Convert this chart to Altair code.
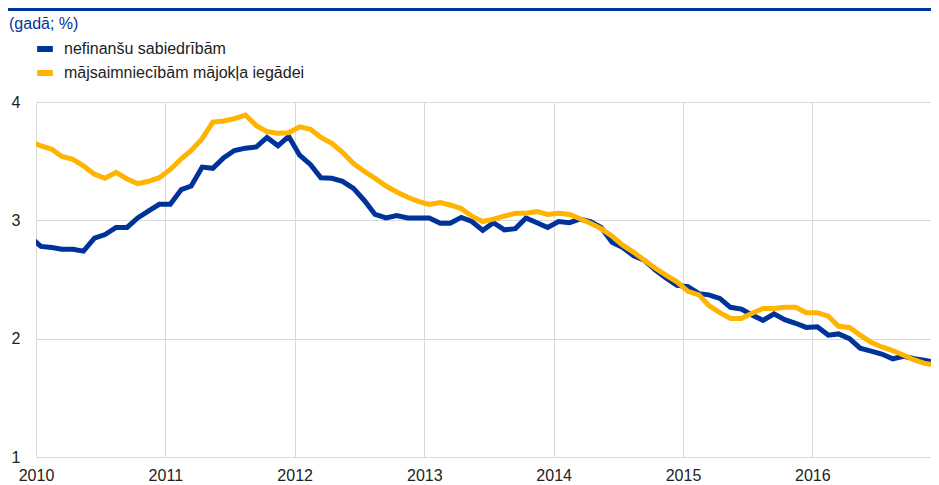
import altair as alt
import pandas as pd

# ---- data (monthly, mid-month points, Dec 2009 .. Dec 2016) ----
first_month = "2009-12-01"
nefinansu = [
    2.86,
    2.78, 2.77, 2.755, 2.755, 2.74, 2.85, 2.88, 2.94, 2.94, 3.02, 3.08, 3.135,
    3.135, 3.26, 3.29, 3.45, 3.44, 3.53, 3.59, 3.61, 3.62, 3.70, 3.63, 3.71,
    3.55, 3.47, 3.36, 3.355, 3.33, 3.27, 3.17, 3.05, 3.02, 3.04, 3.02, 3.02,
    3.02, 2.975, 2.975, 3.025, 2.99, 2.915, 2.98, 2.92, 2.93, 3.02, 2.98, 2.94,
    2.99, 2.98, 3.01, 2.99, 2.94, 2.815, 2.77, 2.70, 2.66, 2.58, 2.51, 2.45,
    2.44, 2.38, 2.37, 2.34, 2.265, 2.25, 2.20, 2.155, 2.21, 2.16, 2.13, 2.095,
    2.10, 2.03, 2.04, 2.00, 1.92, 1.895, 1.87, 1.83, 1.85, 1.83, 1.815, 1.80,
]
majsaimn = [
    3.665,
    3.63, 3.60, 3.54, 3.515, 3.46, 3.39, 3.355, 3.405, 3.35, 3.31, 3.33, 3.36,
    3.43, 3.52, 3.59, 3.69, 3.83, 3.84, 3.86, 3.89, 3.80, 3.75, 3.735, 3.74,
    3.79, 3.77, 3.70, 3.65, 3.575, 3.48, 3.415, 3.355, 3.29, 3.24, 3.195, 3.16,
    3.135, 3.15, 3.13, 3.10, 3.035, 2.99, 3.01, 3.035, 3.06, 3.06, 3.075, 3.05,
    3.06, 3.05, 3.015, 2.975, 2.93, 2.865, 2.79, 2.73, 2.66, 2.595, 2.535, 2.48,
    2.40, 2.37, 2.28, 2.22, 2.17, 2.17, 2.215, 2.255, 2.255, 2.265, 2.265, 2.22,
    2.22, 2.19, 2.105, 2.095, 2.03, 1.97, 1.93, 1.90, 1.86, 1.82, 1.79, 1.78,
]
series_names = ["nefinanšu sabiedrībām", "mājsaimniecībām mājokļa iegādei"]
series_colors = ["#003399", "#FFB400"]
year_ticks = [2010, 2011, 2012, 2013, 2014, 2015, 2016]
y_ticks = [1, 2, 3, 4]
unit_label = "(gadā; %)"

FONT = "Liberation Sans, Arial, sans-serif"
W, H = 895, 355

dates = (pd.date_range(start=first_month, periods=len(nefinansu), freq="MS")
         + pd.Timedelta(days=14)).strftime("%Y-%m-%d")

df_b = pd.DataFrame({"date": dates, "value": nefinansu, "series": series_names[0]})
df_y = pd.DataFrame({"date": dates, "value": majsaimn, "series": series_names[1]})

x_enc = alt.X(
    "date:T",
    title=None,
    scale=alt.Scale(
        type="utc",
        domain=[alt.DateTime(year=2010, month=1, date=1, utc=True),
                alt.DateTime(year=2016, month=12, date=1, utc=True)],
    ),
    axis=alt.Axis(
        values=[alt.DateTime(year=y, month=1, date=1, utc=True) for y in year_ticks],
        labelExpr="utcFormat(datum.value, '%Y')",
        grid=True, ticks=False, domain=False,
        labelPadding=10, labelAlign="center",
    ),
)
y_enc = alt.Y(
    "value:Q",
    title=None,
    scale=alt.Scale(domain=[1, 4], nice=False, zero=False),
    axis=alt.Axis(values=y_ticks, grid=True, ticks=False, domain=False,
                  labelPadding=16, format="d"),
)
color_enc = alt.Color(
    "series:N",
    scale=alt.Scale(domain=series_names, range=series_colors),
    legend=alt.Legend(
        orient="none", legendX=-2, legendY=-64, title=None,
        symbolType="stroke", symbolStrokeWidth=6, symbolSize=246,
        labelFontSize=16, labelFont=FONT, labelColor="#222222", labelLimit=0,
        labelOffset=8, rowPadding=0, padding=0, direction="vertical",
    ),
)

blue = alt.Chart(df_b).mark_line(strokeWidth=5, clip=True).encode(
    x=x_enc, y=y_enc, color=color_enc)
yellow = alt.Chart(df_y).mark_line(strokeWidth=5, clip=True).encode(
    x=x_enc, y=y_enc, color=color_enc)

deco = pd.DataFrame({"t": [unit_label]})
top_rule = alt.Chart(deco).mark_rule(color="#003399", strokeWidth=3).encode(
    x=alt.value(-28), x2=alt.value(W), y=alt.value(-92.5))
unit_text = alt.Chart(deco).mark_text(
    align="left", baseline="alphabetic", fontSize=16, font=FONT, color="#003399"
).encode(text="t:N", x=alt.value(-27), y=alt.value(-73))

chart = (
    alt.layer(top_rule, unit_text, blue, yellow)
    .properties(
        width=W, height=H,
        padding={"left": 28, "top": 94, "right": 0, "bottom": 26},
        autosize=alt.AutoSizeParams(type="none"),
    )
    .configure_view(stroke=None)
    .configure_axis(
        labelFont=FONT, labelFontSize=16, labelColor="#222222",
        gridColor="#d9d9d9", gridWidth=1,
    )
)

chart.save("out.html", embed_options={"renderer": "svg", "actions": False})
